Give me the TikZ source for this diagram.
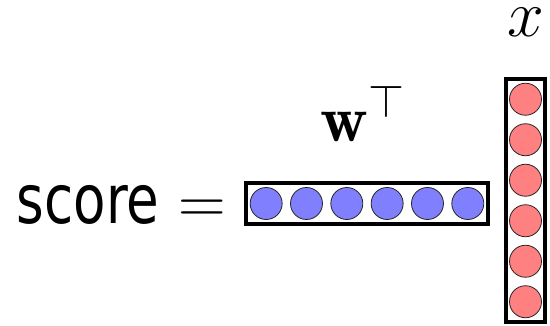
\RequirePackage{fix-cm}
\documentclass[tikz,border=0pt]{standalone}
\usepackage{fontspec}
\usepackage{graphicx}
\newfontfamily\scorefont{DejaVu Sans}
\usepackage{tikz}
\usetikzlibrary{positioning}
\definecolor{wfill}{RGB}{128,128,255}
\definecolor{xfill}{RGB}{255,128,128}

\begin{document}
\begin{tikzpicture}[
  x=1pt, y=1pt,
  vecbox/.style={
    draw,
    line width=3.5pt,
    inner sep=0pt
    },
  unit/.style={
    circle,
    draw=black!85,
    line width=0.8pt,
    minimum size=32pt,
    inner sep=0pt,
    fill=#1
    },
  bigmath/.style={inner sep=0pt, font=\fontsize{66}{70}\selectfont}
]
\useasboundingbox (0,0) rectangle (550,326);

% Row vector w
\node[vecbox, minimum width=242pt, minimum height=41pt] (wbar) at (367,122.5) {};
\foreach \i in {1,...,6}
  \node[unit=wfill] (w\i) at (246+\i*40.33-20.17, 122.5) {};

% Column vector x
\node[vecbox, minimum width=39pt, minimum height=243pt] (xbar) at (525.5,125.5) {};
\foreach \i in {1,...,6}
  \node[unit=xfill] (x\i) at (525.5, 247-\i*40.5+20.25) {};

\node[bigmath, above=39.25pt of wbar, xshift=-4pt] (wlabel) {$\mathbf{w}^\top$};
\node[bigmath, above=40.25pt of xbar] (xlabel) {$x$};

\node[bigmath, anchor=base west] (eq) at (178.5,102) {$=$};
\node[inner sep=0pt, font=\scorefont\fontsize{68}{78}\selectfont,
  left=19pt of eq.base west, anchor=base east] (score) {\scalebox{0.78}[1]{score}};

\end{tikzpicture}
\end{document}
